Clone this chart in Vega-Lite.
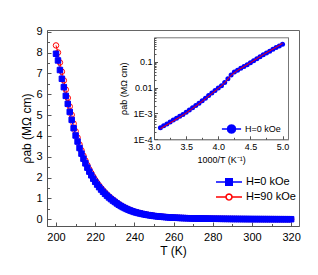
{
"$schema": "https://vega.github.io/schema/vega-lite/v6.json",
"width": 252, "height": 196,
"autosize": {"type": "none"},
"padding": {"left": 47, "top": 30, "right": 19, "bottom": 49},
"config": {
  "font": "Liberation Sans",
  "view": {"stroke": "#666666", "strokeWidth": 1},
  "axis": {"grid": false, "domainColor": "#555555", "tickColor": "#555555", "labelColor": "#000000", "titleColor": "#000000", "labelFont": "Liberation Sans", "titleFont": "Liberation Sans", "titleFontWeight": "normal", "labelOverlap": false, "labelFlush": false},
  "legend": {"labelFont": "Liberation Sans", "labelColor": "#000000"}
},
"datasets": {
"main": [
{"T":200,"r":8.34,"s":"H=90 kOe"},{"T":201,"r":8.0,"s":"H=90 kOe"},{"T":202,"r":7.52,"s":"H=90 kOe"},{"T":203,"r":7.08,"s":"H=90 kOe"},{"T":204,"r":6.66,"s":"H=90 kOe"},{"T":205,"r":6.22,"s":"H=90 kOe"},{"T":206,"r":5.82,"s":"H=90 kOe"},{"T":207,"r":5.41,"s":"H=90 kOe"},{"T":208,"r":5.01,"s":"H=90 kOe"},{"T":209,"r":4.59,"s":"H=90 kOe"},
{"T":210,"r":4.22,"s":"H=90 kOe"},{"T":211,"r":3.92,"s":"H=90 kOe"},{"T":212,"r":3.59,"s":"H=90 kOe"},{"T":213,"r":3.31,"s":"H=90 kOe"},{"T":214,"r":3.05,"s":"H=90 kOe"},{"T":215,"r":2.82,"s":"H=90 kOe"},{"T":216,"r":2.6,"s":"H=90 kOe"},{"T":217,"r":2.4,"s":"H=90 kOe"},{"T":218,"r":2.22,"s":"H=90 kOe"},{"T":219,"r":2.05,"s":"H=90 kOe"},
{"T":220,"r":1.89,"s":"H=90 kOe"},{"T":221,"r":1.75,"s":"H=90 kOe"},{"T":222,"r":1.62,"s":"H=90 kOe"},{"T":223,"r":1.5,"s":"H=90 kOe"},{"T":224,"r":1.39,"s":"H=90 kOe"},{"T":225,"r":1.29,"s":"H=90 kOe"},{"T":226,"r":1.19,"s":"H=90 kOe"},{"T":227,"r":1.1,"s":"H=90 kOe"},{"T":228,"r":1.02,"s":"H=90 kOe"},{"T":229,"r":0.945,"s":"H=90 kOe"},
{"T":230,"r":0.875,"s":"H=90 kOe"},{"T":231,"r":0.802,"s":"H=90 kOe"},{"T":232,"r":0.736,"s":"H=90 kOe"},{"T":233,"r":0.675,"s":"H=90 kOe"},{"T":234,"r":0.62,"s":"H=90 kOe"},{"T":235,"r":0.569,"s":"H=90 kOe"},{"T":236,"r":0.522,"s":"H=90 kOe"},{"T":237,"r":0.479,"s":"H=90 kOe"},{"T":238,"r":0.44,"s":"H=90 kOe"},{"T":239,"r":0.403,"s":"H=90 kOe"},
{"T":240,"r":0.37,"s":"H=90 kOe"},{"T":241,"r":0.342,"s":"H=90 kOe"},{"T":242,"r":0.316,"s":"H=90 kOe"},{"T":243,"r":0.293,"s":"H=90 kOe"},{"T":244,"r":0.271,"s":"H=90 kOe"},{"T":245,"r":0.25,"s":"H=90 kOe"},{"T":246,"r":0.231,"s":"H=90 kOe"},{"T":247,"r":0.214,"s":"H=90 kOe"},{"T":248,"r":0.198,"s":"H=90 kOe"},{"T":249,"r":0.183,"s":"H=90 kOe"},
{"T":250,"r":0.169,"s":"H=90 kOe"},{"T":251,"r":0.156,"s":"H=90 kOe"},{"T":252,"r":0.146,"s":"H=90 kOe"},{"T":253,"r":0.135,"s":"H=90 kOe"},{"T":254,"r":0.126,"s":"H=90 kOe"},{"T":255,"r":0.118,"s":"H=90 kOe"},{"T":256,"r":0.11,"s":"H=90 kOe"},{"T":257,"r":0.102,"s":"H=90 kOe"},{"T":258,"r":0.096,"s":"H=90 kOe"},{"T":259,"r":0.088,"s":"H=90 kOe"},
{"T":260,"r":0.083,"s":"H=90 kOe"},{"T":261,"r":0.0786,"s":"H=90 kOe"},{"T":262,"r":0.0743,"s":"H=90 kOe"},{"T":263,"r":0.0701,"s":"H=90 kOe"},{"T":264,"r":0.0662,"s":"H=90 kOe"},{"T":265,"r":0.0625,"s":"H=90 kOe"},{"T":266,"r":0.0591,"s":"H=90 kOe"},{"T":267,"r":0.0557,"s":"H=90 kOe"},{"T":268,"r":0.0527,"s":"H=90 kOe"},{"T":269,"r":0.0497,"s":"H=90 kOe"},
{"T":270,"r":0.047,"s":"H=90 kOe"},{"T":271,"r":0.0448,"s":"H=90 kOe"},{"T":272,"r":0.0427,"s":"H=90 kOe"},{"T":273,"r":0.0407,"s":"H=90 kOe"},{"T":274,"r":0.0388,"s":"H=90 kOe"},{"T":275,"r":0.0369,"s":"H=90 kOe"},{"T":276,"r":0.0353,"s":"H=90 kOe"},{"T":277,"r":0.0336,"s":"H=90 kOe"},{"T":278,"r":0.0319,"s":"H=90 kOe"},{"T":279,"r":0.0305,"s":"H=90 kOe"},
{"T":280,"r":0.029,"s":"H=90 kOe"},{"T":281,"r":0.0278,"s":"H=90 kOe"},{"T":282,"r":0.0266,"s":"H=90 kOe"},{"T":283,"r":0.0255,"s":"H=90 kOe"},{"T":284,"r":0.0243,"s":"H=90 kOe"},{"T":285,"r":0.0233,"s":"H=90 kOe"},{"T":286,"r":0.0224,"s":"H=90 kOe"},{"T":287,"r":0.0213,"s":"H=90 kOe"},{"T":288,"r":0.0205,"s":"H=90 kOe"},{"T":289,"r":0.0196,"s":"H=90 kOe"},
{"T":290,"r":0.0187,"s":"H=90 kOe"},{"T":291,"r":0.018,"s":"H=90 kOe"},{"T":292,"r":0.0173,"s":"H=90 kOe"},{"T":293,"r":0.0166,"s":"H=90 kOe"},{"T":294,"r":0.0159,"s":"H=90 kOe"},{"T":295,"r":0.0153,"s":"H=90 kOe"},{"T":296,"r":0.0148,"s":"H=90 kOe"},{"T":297,"r":0.0141,"s":"H=90 kOe"},{"T":298,"r":0.0136,"s":"H=90 kOe"},{"T":299,"r":0.0131,"s":"H=90 kOe"},
{"T":300,"r":0.0126,"s":"H=90 kOe"},{"T":301,"r":0.0121,"s":"H=90 kOe"},{"T":302,"r":0.0116,"s":"H=90 kOe"},{"T":303,"r":0.0111,"s":"H=90 kOe"},{"T":304,"r":0.0107,"s":"H=90 kOe"},{"T":305,"r":0.0103,"s":"H=90 kOe"},{"T":306,"r":0.0099,"s":"H=90 kOe"},{"T":307,"r":0.0095,"s":"H=90 kOe"},{"T":308,"r":0.0092,"s":"H=90 kOe"},{"T":309,"r":0.0087,"s":"H=90 kOe"},
{"T":310,"r":0.0084,"s":"H=90 kOe"},{"T":311,"r":0.0081,"s":"H=90 kOe"},{"T":312,"r":0.0078,"s":"H=90 kOe"},{"T":313,"r":0.0075,"s":"H=90 kOe"},{"T":314,"r":0.0072,"s":"H=90 kOe"},{"T":315,"r":0.0069,"s":"H=90 kOe"},{"T":316,"r":0.0067,"s":"H=90 kOe"},{"T":317,"r":0.0063,"s":"H=90 kOe"},{"T":318,"r":0.0061,"s":"H=90 kOe"},{"T":319,"r":0.0059,"s":"H=90 kOe"},{"T":320,"r":0.0056,"s":"H=90 kOe"},
{"T":200,"r":7.94,"s":"H=0 kOe"},{"T":201,"r":7.62,"s":"H=0 kOe"},{"T":202,"r":7.16,"s":"H=0 kOe"},{"T":203,"r":6.74,"s":"H=0 kOe"},{"T":204,"r":6.34,"s":"H=0 kOe"},{"T":205,"r":5.92,"s":"H=0 kOe"},{"T":206,"r":5.54,"s":"H=0 kOe"},{"T":207,"r":5.15,"s":"H=0 kOe"},{"T":208,"r":4.77,"s":"H=0 kOe"},{"T":209,"r":4.37,"s":"H=0 kOe"},
{"T":210,"r":4.02,"s":"H=0 kOe"},{"T":211,"r":3.73,"s":"H=0 kOe"},{"T":212,"r":3.42,"s":"H=0 kOe"},{"T":213,"r":3.15,"s":"H=0 kOe"},{"T":214,"r":2.908,"s":"H=0 kOe"},{"T":215,"r":2.684,"s":"H=0 kOe"},{"T":216,"r":2.478,"s":"H=0 kOe"},{"T":217,"r":2.287,"s":"H=0 kOe"},{"T":218,"r":2.111,"s":"H=0 kOe"},{"T":219,"r":1.949,"s":"H=0 kOe"},
{"T":220,"r":1.799,"s":"H=0 kOe"},{"T":221,"r":1.666,"s":"H=0 kOe"},{"T":222,"r":1.542,"s":"H=0 kOe"},{"T":223,"r":1.428,"s":"H=0 kOe"},{"T":224,"r":1.322,"s":"H=0 kOe"},{"T":225,"r":1.224,"s":"H=0 kOe"},{"T":226,"r":1.134,"s":"H=0 kOe"},{"T":227,"r":1.05,"s":"H=0 kOe"},{"T":228,"r":0.972,"s":"H=0 kOe"},{"T":229,"r":0.9,"s":"H=0 kOe"},
{"T":230,"r":0.833,"s":"H=0 kOe"},{"T":231,"r":0.764,"s":"H=0 kOe"},{"T":232,"r":0.701,"s":"H=0 kOe"},{"T":233,"r":0.643,"s":"H=0 kOe"},{"T":234,"r":0.59,"s":"H=0 kOe"},{"T":235,"r":0.542,"s":"H=0 kOe"},{"T":236,"r":0.497,"s":"H=0 kOe"},{"T":237,"r":0.456,"s":"H=0 kOe"},{"T":238,"r":0.419,"s":"H=0 kOe"},{"T":239,"r":0.384,"s":"H=0 kOe"},
{"T":240,"r":0.352,"s":"H=0 kOe"},{"T":241,"r":0.326,"s":"H=0 kOe"},{"T":242,"r":0.301,"s":"H=0 kOe"},{"T":243,"r":0.279,"s":"H=0 kOe"},{"T":244,"r":0.258,"s":"H=0 kOe"},{"T":245,"r":0.238,"s":"H=0 kOe"},{"T":246,"r":0.22,"s":"H=0 kOe"},{"T":247,"r":0.204,"s":"H=0 kOe"},{"T":248,"r":0.189,"s":"H=0 kOe"},{"T":249,"r":0.174,"s":"H=0 kOe"},
{"T":250,"r":0.161,"s":"H=0 kOe"},{"T":251,"r":0.15,"s":"H=0 kOe"},{"T":252,"r":0.14,"s":"H=0 kOe"},{"T":253,"r":0.13,"s":"H=0 kOe"},{"T":254,"r":0.121,"s":"H=0 kOe"},{"T":255,"r":0.113,"s":"H=0 kOe"},{"T":256,"r":0.106,"s":"H=0 kOe"},{"T":257,"r":0.098,"s":"H=0 kOe"},{"T":258,"r":0.092,"s":"H=0 kOe"},{"T":259,"r":0.085,"s":"H=0 kOe"},
{"T":260,"r":0.08,"s":"H=0 kOe"},{"T":261,"r":0.0756,"s":"H=0 kOe"},{"T":262,"r":0.0714,"s":"H=0 kOe"},{"T":263,"r":0.0674,"s":"H=0 kOe"},{"T":264,"r":0.0637,"s":"H=0 kOe"},{"T":265,"r":0.0601,"s":"H=0 kOe"},{"T":266,"r":0.0568,"s":"H=0 kOe"},{"T":267,"r":0.0536,"s":"H=0 kOe"},{"T":268,"r":0.0507,"s":"H=0 kOe"},{"T":269,"r":0.0478,"s":"H=0 kOe"},
{"T":270,"r":0.0452,"s":"H=0 kOe"},{"T":271,"r":0.0431,"s":"H=0 kOe"},{"T":272,"r":0.0411,"s":"H=0 kOe"},{"T":273,"r":0.0391,"s":"H=0 kOe"},{"T":274,"r":0.0373,"s":"H=0 kOe"},{"T":275,"r":0.0355,"s":"H=0 kOe"},{"T":276,"r":0.0339,"s":"H=0 kOe"},{"T":277,"r":0.0323,"s":"H=0 kOe"},{"T":278,"r":0.0307,"s":"H=0 kOe"},{"T":279,"r":0.0293,"s":"H=0 kOe"},
{"T":280,"r":0.0279,"s":"H=0 kOe"},{"T":281,"r":0.0267,"s":"H=0 kOe"},{"T":282,"r":0.0256,"s":"H=0 kOe"},{"T":283,"r":0.0245,"s":"H=0 kOe"},{"T":284,"r":0.0234,"s":"H=0 kOe"},{"T":285,"r":0.0224,"s":"H=0 kOe"},{"T":286,"r":0.0215,"s":"H=0 kOe"},{"T":287,"r":0.0205,"s":"H=0 kOe"},{"T":288,"r":0.0197,"s":"H=0 kOe"},{"T":289,"r":0.0188,"s":"H=0 kOe"},
{"T":290,"r":0.018,"s":"H=0 kOe"},{"T":291,"r":0.0173,"s":"H=0 kOe"},{"T":292,"r":0.0166,"s":"H=0 kOe"},{"T":293,"r":0.016,"s":"H=0 kOe"},{"T":294,"r":0.0153,"s":"H=0 kOe"},{"T":295,"r":0.0147,"s":"H=0 kOe"},{"T":296,"r":0.0142,"s":"H=0 kOe"},{"T":297,"r":0.0136,"s":"H=0 kOe"},{"T":298,"r":0.0131,"s":"H=0 kOe"},{"T":299,"r":0.0126,"s":"H=0 kOe"},
{"T":300,"r":0.0121,"s":"H=0 kOe"},{"T":301,"r":0.0116,"s":"H=0 kOe"},{"T":302,"r":0.0112,"s":"H=0 kOe"},{"T":303,"r":0.0107,"s":"H=0 kOe"},{"T":304,"r":0.0103,"s":"H=0 kOe"},{"T":305,"r":0.0099,"s":"H=0 kOe"},{"T":306,"r":0.0095,"s":"H=0 kOe"},{"T":307,"r":0.0091,"s":"H=0 kOe"},{"T":308,"r":0.0088,"s":"H=0 kOe"},{"T":309,"r":0.0084,"s":"H=0 kOe"},
{"T":310,"r":0.0081,"s":"H=0 kOe"},{"T":311,"r":0.0078,"s":"H=0 kOe"},{"T":312,"r":0.0075,"s":"H=0 kOe"},{"T":313,"r":0.0072,"s":"H=0 kOe"},{"T":314,"r":0.0069,"s":"H=0 kOe"},{"T":315,"r":0.0066,"s":"H=0 kOe"},{"T":316,"r":0.0064,"s":"H=0 kOe"},{"T":317,"r":0.0061,"s":"H=0 kOe"},{"T":318,"r":0.0059,"s":"H=0 kOe"},{"T":319,"r":0.0057,"s":"H=0 kOe"},{"T":320,"r":0.0054,"s":"H=0 kOe"}
],
"ins": [
{"x":3.1,"r":0.000282,"s":"H=0 kOe"},{"x":3.15,"r":0.000333,"s":"H=0 kOe"},{"x":3.2,"r":0.000394,"s":"H=0 kOe"},{"x":3.25,"r":0.000467,"s":"H=0 kOe"},{"x":3.3,"r":0.000552,"s":"H=0 kOe"},{"x":3.35,"r":0.000653,"s":"H=0 kOe"},{"x":3.4,"r":0.000773,"s":"H=0 kOe"},{"x":3.45,"r":0.000914,"s":"H=0 kOe"},
{"x":3.5,"r":0.001114,"s":"H=0 kOe"},{"x":3.55,"r":0.001365,"s":"H=0 kOe"},{"x":3.6,"r":0.001667,"s":"H=0 kOe"},{"x":3.65,"r":0.002042,"s":"H=0 kOe"},{"x":3.7,"r":0.002495,"s":"H=0 kOe"},{"x":3.75,"r":0.003105,"s":"H=0 kOe"},{"x":3.8,"r":0.00389,"s":"H=0 kOe"},{"x":3.85,"r":0.004887,"s":"H=0 kOe"},
{"x":3.9,"r":0.006124,"s":"H=0 kOe"},{"x":3.95,"r":0.007674,"s":"H=0 kOe"},{"x":4.0,"r":0.00955,"s":"H=0 kOe"},{"x":4.05,"r":0.01183,"s":"H=0 kOe"},{"x":4.1,"r":0.01556,"s":"H=0 kOe"},{"x":4.15,"r":0.02213,"s":"H=0 kOe"},{"x":4.2,"r":0.03041,"s":"H=0 kOe"},{"x":4.25,"r":0.0399,"s":"H=0 kOe"},
{"x":4.3,"r":0.04699,"s":"H=0 kOe"},{"x":4.35,"r":0.05521,"s":"H=0 kOe"},{"x":4.4,"r":0.06501,"s":"H=0 kOe"},{"x":4.45,"r":0.07656,"s":"H=0 kOe"},{"x":4.5,"r":0.09141,"s":"H=0 kOe"},{"x":4.55,"r":0.1094,"s":"H=0 kOe"},{"x":4.6,"r":0.1306,"s":"H=0 kOe"},{"x":4.65,"r":0.156,"s":"H=0 kOe"},
{"x":4.7,"r":0.1841,"s":"H=0 kOe"},{"x":4.75,"r":0.2168,"s":"H=0 kOe"},{"x":4.8,"r":0.2559,"s":"H=0 kOe"},{"x":4.85,"r":0.302,"s":"H=0 kOe"},{"x":4.9,"r":0.3508,"s":"H=0 kOe"},{"x":4.95,"r":0.4055,"s":"H=0 kOe"},{"x":5.0,"r":0.4699,"s":"H=0 kOe"}
],
"inr": [
{"x":3.1,"r":0.000257},{"x":3.2,"r":0.000362},{"x":3.3,"r":0.000508},{"x":3.4,"r":0.000716},{"x":3.5,"r":0.00104},{"x":3.6,"r":0.001567},{"x":3.7,"r":0.00236},{"x":3.8,"r":0.003707},{"x":3.9,"r":0.005875},{"x":4.0,"r":0.009226},
{"x":4.1,"r":0.01514},{"x":4.2,"r":0.02979},{"x":4.3,"r":0.04634},{"x":4.4,"r":0.06457},{"x":4.5,"r":0.09141},{"x":4.6,"r":0.1315},{"x":4.7,"r":0.1866},{"x":4.8,"r":0.2612},{"x":4.9,"r":0.3614},{"x":5.0,"r":0.513}
]
},
"layer": [
{
 "data": {"name": "main"},
 "encoding": {
  "x": {"field": "T", "type": "quantitative", "scale": {"domain": [195.4, 324], "nice": false, "zero": false},
   "axis": {"orient": "bottom", "title": "T (K)", "values": [200,210,220,230,240,250,260,270,280,290,300,310,320], "labelExpr": "datum.value % 20 == 0 ? format(datum.value, 'd') : ''", "tickSize": {"condition": {"test": "datum.value % 20 == 0", "value": -4}, "value": -2.5}, "labelPadding": 9, "labelFontSize": 11, "titleFontSize": 12, "titlePadding": 2}},
  "y": {"field": "r", "type": "quantitative", "scale": {"domain": [-0.32, 9.08], "nice": false, "zero": false},
   "axis": {"orient": "left", "title": "ρab (MΩ cm)", "values": [0,0.5,1,1.5,2,2.5,3,3.5,4,4.5,5,5.5,6,6.5,7,7.5,8,8.5,9], "labelExpr": "datum.value % 1 == 0 ? format(datum.value, 'd') : ''", "tickSize": {"condition": {"test": "datum.value % 1 == 0", "value": -4}, "value": -2.5}, "labelPadding": 9, "labelFontSize": 11, "titleFontSize": 12, "titlePadding": 2}},
  "stroke": {"field": "s", "type": "nominal", "scale": {"domain": ["H=0 kOe", "H=90 kOe"], "range": ["#0000ff", "#ff0000"]},
   "legend": {"orient": "none", "legendX": 176, "legendY": 146, "title": null, "symbolSize": 100, "labelFontSize": 11, "labelOffset": 11, "rowPadding": 2,
    "encoding": {"symbols": {
      "shape": {"condition": {"test": "datum.value == 'H=0 kOe'", "value": "M-2.6,0H2.6M-0.65,-0.65H0.65V0.65H-0.65Z"}, "value": "M-2.6,0H-0.6M0.6,0H2.6M0.6,0L0.52,0.3L0.3,0.52L0,0.6L-0.3,0.52L-0.52,0.3L-0.6,0L-0.52,-0.3L-0.3,-0.52L0,-0.6L0.3,-0.52L0.52,-0.3Z"},
      "fill": {"condition": {"test": "datum.value == 'H=0 kOe'", "value": "#0000ff"}, "value": "#ffffff"},
      "strokeWidth": {"value": 1.5}}}}}
 },
 "layer": [
  {"transform": [{"filter": "datum.s == 'H=90 kOe'"}], "mark": {"type": "line", "strokeWidth": 1}},
  {"transform": [{"filter": "datum.s == 'H=0 kOe'"}], "mark": {"type": "line", "strokeWidth": 1}},
  {"transform": [{"filter": "datum.s == 'H=90 kOe'"}], "mark": {"type": "point", "shape": "circle", "filled": false, "fill": "transparent", "opacity": 1, "size": 30, "strokeWidth": 1}},
  {"transform": [{"filter": "datum.s == 'H=0 kOe'"}], "mark": {"type": "point", "shape": "square", "filled": true, "fill": "#0000ff", "opacity": 1, "size": 30, "strokeWidth": 1}}
 ]
},
{
 "encoding": {
  "x": {"field": "x", "type": "quantitative", "scale": {"domain": [3.0, 5.09], "range": [107, 241.3], "nice": false, "zero": false},
   "axis": {"orient": "bottom", "offset": -86.7, "title": "1000/T (K⁻¹)", "values": [3,3.25,3.5,3.75,4,4.25,4.5,4.75,5], "labelExpr": "(datum.value*4) % 2 == 0 ? format(datum.value, '.1f') : ''", "tickSize": {"condition": {"test": "(datum.value*4) % 2 == 0", "value": -3.5}, "value": -2}, "labelPadding": 7, "labelFontSize": 9, "titleFontSize": 9, "titlePadding": 2}},
  "y": {"field": "r", "type": "quantitative", "scale": {"type": "log", "domain": [0.0001, 0.876], "range": [109.3, 7.3], "nice": false},
   "axis": {"orient": "left", "offset": -107, "title": "ρab (MΩ cm)", "values": [0.0001,0.0002,0.0003,0.0004,0.0005,0.0006,0.0007,0.0008,0.0009,0.001,0.002,0.003,0.004,0.005,0.006,0.007,0.008,0.009,0.01,0.02,0.03,0.04,0.05,0.06,0.07,0.08,0.09,0.1,0.2,0.3,0.4,0.5,0.6,0.7,0.8],
    "labelExpr": "datum.value == 0.1 ? '0.1' : datum.value == 0.01 ? '0.01' : datum.value == 0.001 ? '1E-3' : datum.value == 0.0001 ? '1E-4' : ''",
    "tickSize": {"condition": {"test": "datum.value == 0.1 || datum.value == 0.01 || datum.value == 0.001 || datum.value == 0.0001", "value": -3.5}, "value": -2}, "labelPadding": 5.5, "labelFontSize": 9, "titleFontSize": 9, "titlePadding": 4}}
 },
 "layer": [
  {"data": {"name": "ins"}, "mark": {"type": "point", "filled": true, "opacity": 1, "size": 25, "strokeWidth": 0},
   "encoding": {"color": {"field": "s", "type": "nominal", "scale": {"range": ["#0000ff"]},
    "legend": {"orient": "none", "legendX": 179.5, "legendY": 94, "title": null, "symbolSize": 64, "labelFontSize": 9, "labelOffset": 8.5,
     "encoding": {"symbols": {
       "shape": {"value": "M-2.4,0H2.4M1,0L0.87,0.5L0.5,0.87L0,1L-0.5,0.87L-0.87,0.5L-1,0L-0.87,-0.5L-0.5,-0.87L0,-1L0.5,-0.87L0.87,-0.5Z"},
       "fill": {"value": "#0000ff"}, "stroke": {"value": "#0000ff"}, "strokeWidth": {"value": 1.5}}}}}}},
  {"data": {"name": "inr"}, "mark": {"type": "line", "color": "#ff0000", "strokeWidth": 1}}
 ]
},
{
 "data": {"name": "inr"},
 "mark": {"type": "point", "opacity": 0},
 "encoding": {
  "x": {"field": "x", "type": "quantitative", "scale": {"domain": [3.0, 5.09], "range": [107, 241.3], "nice": false, "zero": false},
   "axis": {"orient": "top", "offset": -7.3, "labels": false, "ticks": false, "title": null, "domainColor": "#777777"}},
  "y": {"field": "r", "type": "quantitative", "scale": {"type": "log", "domain": [0.0001, 0.876], "range": [109.3, 7.3], "nice": false},
   "axis": {"orient": "right", "offset": -11, "labels": false, "ticks": false, "title": null, "domainColor": "#777777"}}
 }
}
],
"resolve": {"scale": {"x": "independent", "y": "independent", "color": "independent", "stroke": "independent"}, "axis": {"x": "independent", "y": "independent"}, "legend": {"color": "independent", "stroke": "independent"}}
}
